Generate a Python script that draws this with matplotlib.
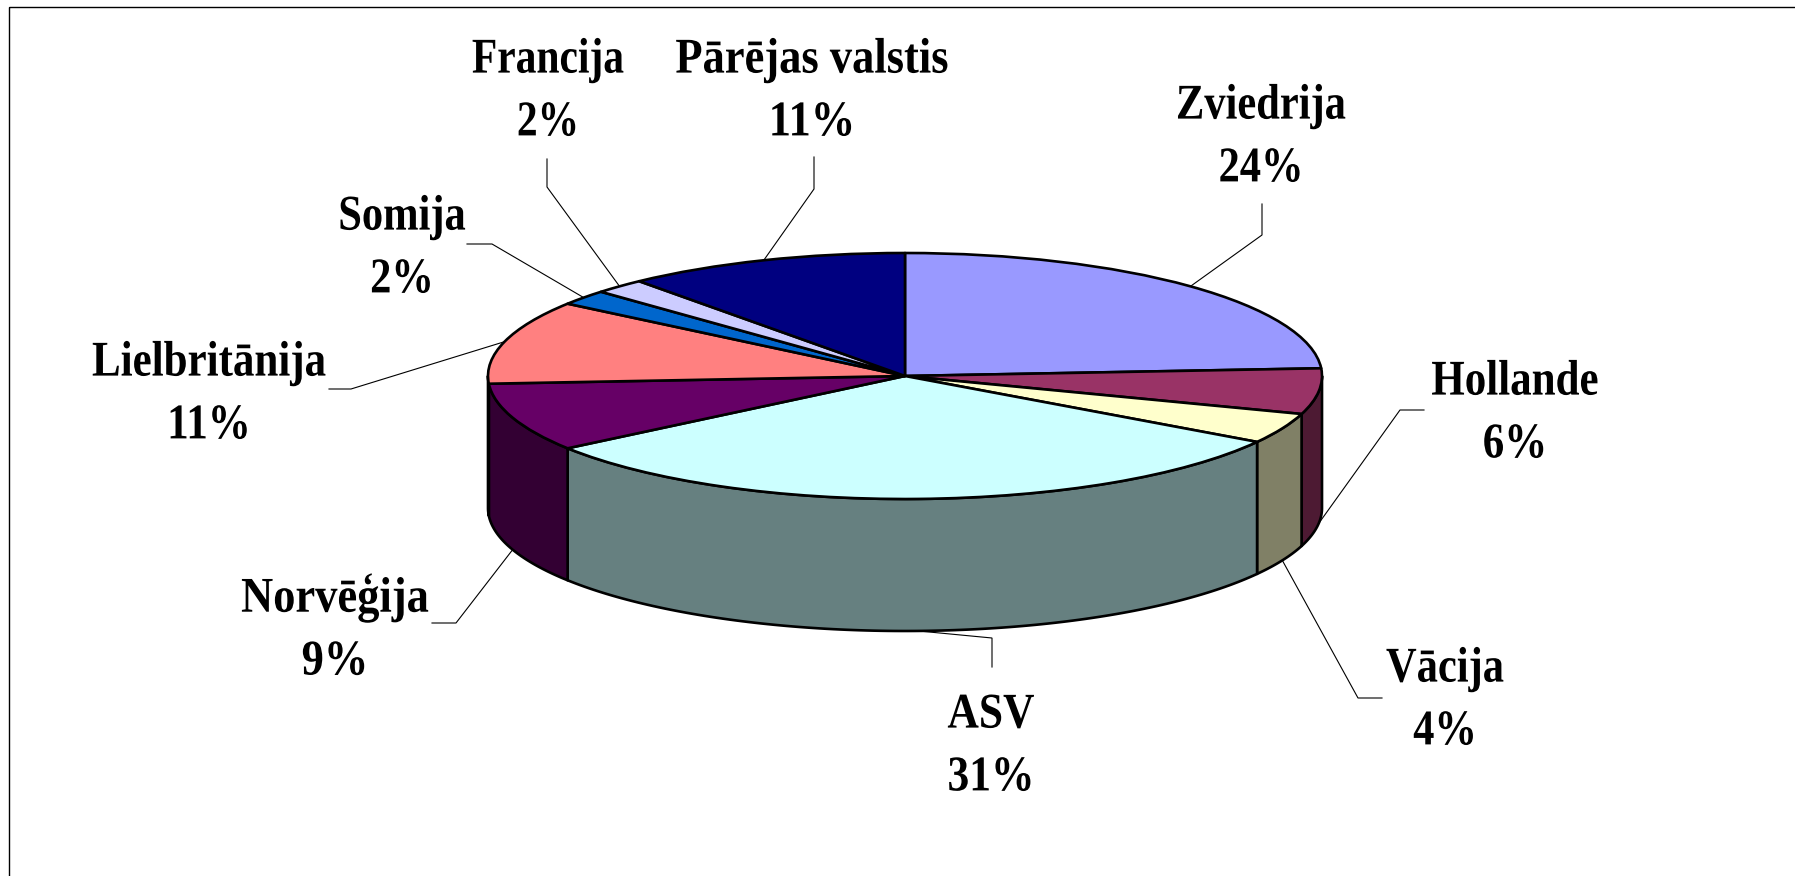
import numpy as np
import matplotlib
matplotlib.use("Agg")
import matplotlib.pyplot as plt
from matplotlib.patches import Wedge, Polygon, Rectangle
from matplotlib.patheffects import AbstractPathEffect
from matplotlib.transforms import Affine2D

# ---- data ----
categories = ["Zviedrija", "Hollande", "Vācija", "ASV", "Norvēģija",
              "Lielbritānija", "Somija", "Francija", "Pārējas valstis"]
shares = [24, 6, 4, 31, 9, 11, 2, 2, 11]
top_colors = ["#9999FF", "#993366", "#FFFFCC", "#CCFFFF", "#660066",
              "#FF8080", "#0066CC", "#CCCCFF", "#000080"]
side_colors = ["#4D4D80", "#4D1A33", "#808066", "#668080", "#330033",
               "#804040", "#003366", "#666680", "#000040"]

# ---- layout (pixels of the 1795x876 canvas) ----
W, H = 1795, 876
CX, CY, RX, RY, DEPTH = 905, 376, 417, 123, 132
label_centers = [(1261, 138), (1515, 414), (1445, 701), (991, 747), (335, 629),
                 (209, 395), (402, 249), (548, 92), (812, 92)]
label_squeeze = [0.85, 0.86, 0.85, 0.87, 0.89, 0.86, 0.85, 0.83, 0.89]
leader_elbows = [
    [(1262, 204), (1262, 235)],
    [(1424, 410), (1400, 410)],
    [(1382, 698), (1358, 698)],
    [(992, 667), (992, 638)],
    [(432, 623), (456, 623)],
    [(329, 389), (351, 389)],
    [(467, 244), (492, 244)],
    [(547, 159), (547, 187)],
    [(814, 157), (814, 189)],
]
EDGE = 1.9


class Squeeze(AbstractPathEffect):
    """Narrows the glyphs horizontally around the text's centre."""

    def __init__(self, x_px, sx):
        super().__init__()
        self.x_px, self.sx = x_px, sx

    def draw_path(self, renderer, gc, tpath, affine, rgbFace=None):
        t = affine + Affine2D().translate(-self.x_px, 0).scale(self.sx, 1).translate(self.x_px, 0)
        renderer.draw_path(gc, tpath, t, rgbFace)


fig = plt.figure(figsize=(W / 100, H / 100), dpi=100, facecolor="white")
ax = fig.add_axes([0, 0, 1, 1])
ax.set_xlim(0, W)
ax.set_ylim(H, 0)
ax.axis("off")

ax.add_patch(Rectangle((8.5, 7), W + 20, H + 20, fill=False, ec="black", lw=1.0, zorder=0))

fractions = np.asarray(shares, dtype=float) / sum(shares)
edges = np.concatenate([[0.0], np.cumsum(fractions)]) * 360.0


def rim(clock_deg):
    a = np.radians(clock_deg)
    return CX + RX * np.sin(a), CY - RY * np.cos(a)


# side walls (only the front half of the disc is visible)
for a0, a1, col in zip(edges[:-1], edges[1:], side_colors):
    lo, hi = max(a0, 90.0), min(a1, 270.0)
    if hi <= lo:
        continue
    ang = np.linspace(lo, hi, 120)
    xs, ys = rim(ang)
    pts = np.column_stack([np.r_[xs, xs[::-1]], np.r_[ys, ys[::-1] + DEPTH]])
    ax.add_patch(Polygon(pts, closed=True, fc=col, ec="black", lw=EDGE, zorder=2,
                         joinstyle="round"))

# top face
ellipse = Affine2D().scale(RX, RY).translate(CX, CY) + ax.transData
for a0, a1, col in zip(edges[:-1], edges[1:], top_colors):
    ax.add_patch(Wedge((0, 0), 1, a0 - 90, a1 - 90, fc=col, ec="black", lw=EDGE,
                       transform=ellipse, zorder=3, joinstyle="round"))

# leaders and labels
for name, frac, a0, a1, (lx, ly), elbow, sq in zip(categories, fractions, edges[:-1], edges[1:],
                                                   label_centers, leader_elbows, label_squeeze):
    mid = (a0 + a1) / 2
    ex, ey = rim(mid)
    if 90 < mid < 270:
        ey += DEPTH
    xs = [p[0] for p in elbow] + [ex]
    ys = [p[1] for p in elbow] + [ey]
    ax.plot(xs, ys, color="black", lw=0.8, zorder=1, solid_joinstyle="miter")
    ax.text(lx, ly, f"{name}\n{frac * 100:.0f}%", ha="center", va="center",
            family="Liberation Serif", fontweight="bold", fontsize=36,
            linespacing=1.48, color="black",
            path_effects=[Squeeze(lx, sq)], zorder=5)

fig.savefig("out.png", dpi=100)
